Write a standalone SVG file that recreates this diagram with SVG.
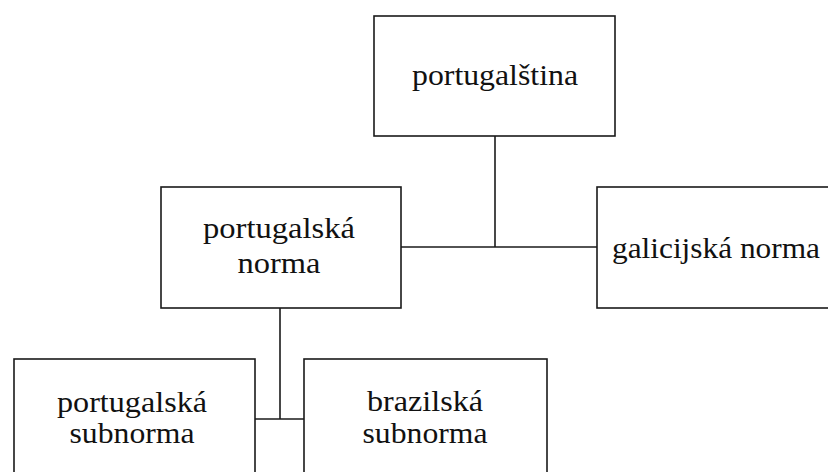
<svg xmlns="http://www.w3.org/2000/svg" width="828" height="472" viewBox="0 0 828 472">
<style>
.box{fill:#fff;stroke:#1a1a1a;stroke-width:1.6}
.conn{stroke:#1a1a1a;stroke-width:1.6;fill:none}
text{font-family:"Liberation Serif","Times New Roman",serif;font-size:29px;fill:#111;text-anchor:middle}
</style>
<rect width="828" height="472" fill="#fff"/>
<g id="connectors">
<line class="conn" x1="495" y1="136" x2="495" y2="247"/>
<line class="conn" x1="401" y1="247" x2="597" y2="247"/>
<line class="conn" x1="280" y1="308" x2="280" y2="419"/>
<line class="conn" x1="255" y1="419" x2="304" y2="419"/>
</g>
<g id="portugalstina">
<rect class="box" x="374" y="16" width="241" height="120"/>
<text x="495" y="85" textLength="166" lengthAdjust="spacingAndGlyphs">portugalština</text>
</g>
<g id="portugalska-norma">
<rect class="box" x="161" y="187" width="240" height="121"/>
<text x="279" y="238" textLength="152" lengthAdjust="spacingAndGlyphs">portugalská</text>
<text x="279" y="273" textLength="83" lengthAdjust="spacingAndGlyphs">norma</text>
</g>
<g id="galicijska-norma">
<rect class="box" x="597" y="187" width="240" height="121"/>
<text x="716" y="258" textLength="208" lengthAdjust="spacingAndGlyphs">galicijská norma</text>
</g>
<g id="portugalska-subnorma">
<rect class="box" x="14" y="359" width="241" height="130"/>
<text x="132" y="412" textLength="150" lengthAdjust="spacingAndGlyphs">portugalská</text>
<text x="132" y="443" textLength="125" lengthAdjust="spacingAndGlyphs">subnorma</text>
</g>
<g id="brazilska-subnorma">
<rect class="box" x="304" y="359" width="243" height="130"/>
<text x="425" y="411" textLength="116" lengthAdjust="spacingAndGlyphs">brazilská</text>
<text x="425" y="443" textLength="125" lengthAdjust="spacingAndGlyphs">subnorma</text>
</g>
</svg>
